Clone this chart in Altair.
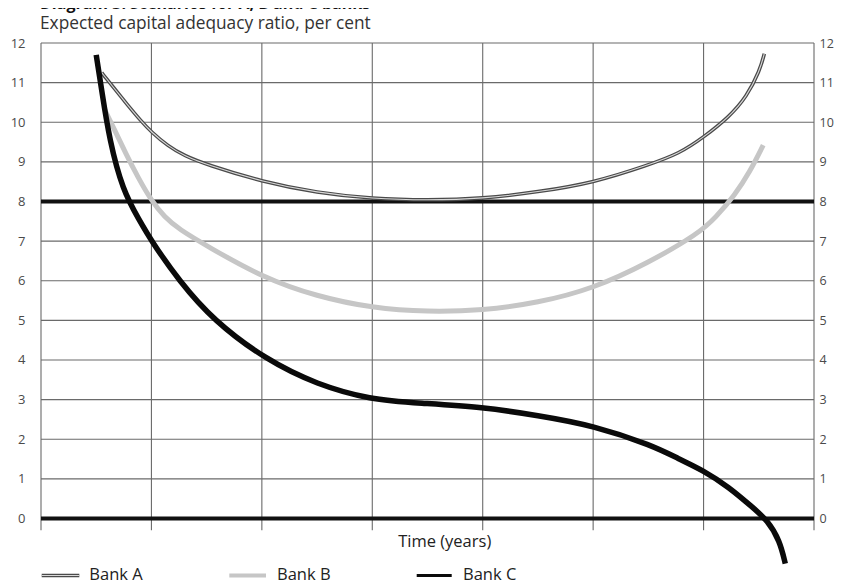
import altair as alt
import pandas as pd

# ---- data ----
bank_a_t = [0.55, 0.65, 0.78, 0.9, 1.0, 1.15, 1.3, 1.5, 2.0, 2.5, 3.0, 3.5, 4.0, 4.5, 5.0, 5.5, 5.78, 6.0, 6.23, 6.39, 6.51, 6.55]
bank_a_v = [11.25, 10.9, 10.45, 10.05, 9.75, 9.4, 9.15, 8.93, 8.5, 8.22, 8.07, 8.03, 8.07, 8.24, 8.47, 8.92, 9.21, 9.62, 10.13, 10.64, 11.31, 11.73]

bank_b_t = [0.58, 0.65, 0.77, 0.88, 1.0, 1.12, 1.25, 1.5, 2.0, 2.5, 3.0, 3.5, 4.0, 4.5, 5.0, 5.5, 5.96, 6.11, 6.28, 6.42, 6.54]
bank_b_v = [10.3, 9.9, 9.2, 8.6, 8.02, 7.6, 7.3, 6.88, 6.09, 5.6, 5.31, 5.21, 5.25, 5.44, 5.8, 6.45, 7.2, 7.6, 8.15, 8.75, 9.42]

bank_c_t = [0.50, 0.55, 0.62, 0.74, 0.89, 1.0, 1.25, 1.56, 2.04, 2.5, 2.98, 3.43, 4.0, 4.5, 5.0, 5.54, 5.77, 6.0, 6.23, 6.44, 6.58, 6.69, 6.74]
bank_c_v = [11.7, 10.8, 9.55, 8.28, 7.53, 7.0, 6.0, 5.0, 4.0, 3.38, 3.0, 2.91, 2.81, 2.6, 2.35, 1.84, 1.51, 1.21, 0.79, 0.29, -0.05, -0.56, -1.14]

y_ticks = list(range(0, 13))
thin_grid_y = [1, 2, 3, 4, 5, 6, 7, 9, 10, 11, 12]
thick_lines_y = [0, 8]
grid_x = [0, 1, 2, 3, 4, 5, 6, 7]

title_text = "Diagram 3: Scenarios for A, B and C banks"
subtitle_text = "Expected capital adequacy ratio, per cent"
x_title = "Time (years)"
legend_names = ["Bank A", "Bank B", "Bank C"]

# ---- layout ----
W, H = 773, 523
FONT = "Open Sans"
xs = alt.Scale(domain=[0, 7], nice=False, zero=False)
ys = alt.Scale(domain=[-1.2, 12], nice=False, zero=False)

df_a = pd.DataFrame({"t": bank_a_t, "v": bank_a_v})
df_b = pd.DataFrame({"t": bank_b_t, "v": bank_b_v})
df_c = pd.DataFrame({"t": bank_c_t, "v": bank_c_v})

axis_common = dict(values=y_ticks, tickSize=0, domain=False, grid=False, labelFont=FONT,
                   labelColor="#4a4a4a", title=None)

hgrid = alt.Chart(pd.DataFrame({"v": thin_grid_y})).mark_rule(color="#6a6a6a", strokeWidth=1.1).encode(
    y=alt.Y("v:Q", scale=ys, axis=alt.Axis(orient="left", labelPadding=16, labelAlign="right",
                                           labelFontSize=13, **axis_common))
)

vgrid = alt.Chart(pd.DataFrame({"t": grid_x, "top": [12] * len(grid_x), "bot": [-0.3] * len(grid_x)})).mark_rule(
    color="#6a6a6a", strokeWidth=1.1
).encode(
    x=alt.X("t:Q", scale=xs, axis=None),
    y=alt.Y("top:Q", scale=ys, axis=None),
    y2="bot:Q",
)

thick = alt.Chart(pd.DataFrame({"v": thick_lines_y})).mark_rule(color="#111111", strokeWidth=4).encode(
    y=alt.Y("v:Q", scale=ys, axis=alt.Axis(orient="right", labelPadding=5, labelAlign="left",
                                           labelFontSize=12.5, **axis_common))
)

def line(df, color, width):
    return alt.Chart(df).mark_line(color=color, strokeWidth=width, interpolate="basis").encode(
        x=alt.X("t:Q", scale=xs, axis=None),
        y=alt.Y("v:Q", scale=ys, axis=None),
        order="t:Q",
    )

line_a_outer = line(df_a, "#4a4a4a", 3.6)
line_a_inner = line(df_a, "#d8d8d8", 1.1)
line_b = line(df_b, "#c6c6c6", 5)
line_c = line(df_c, "#0a0a0a", 5.5)

def text_at(s, x, y, size, weight="normal", align="left", color="#222222"):
    return alt.Chart(pd.DataFrame({"s": [s]})).mark_text(
        font=FONT, fontSize=size, fontWeight=weight, align=align, baseline="alphabetic", color=color
    ).encode(x=alt.value(x), y=alt.value(y), text="s:N")

title = text_at(title_text, -1, -34.2, 16, weight="bold", color="#111111")
subtitle = text_at(subtitle_text, -1, -13.7, 17.3, color="#333333")
xlab = text_at(x_title, 403.7, 504.3, 16.5, align="center", color="#222222")

# legend (custom, matches double-line style of Bank A)
leg_y = 532.5
leg_swatch_x = [(0.7, 38.3), (188.3, 225.0), (375.7, 410.7)]
leg_text_x = [48.3, 236.0, 422.0]
leg_styles = [("#4a4a4a", 3.6), ("#c6c6c6", 4), ("#0a0a0a", 3)]

legend_layers = []
for (x1, x2), tx, (col, w), name in zip(leg_swatch_x, leg_text_x, leg_styles, legend_names):
    legend_layers.append(
        alt.Chart(pd.DataFrame({"s": [name]})).mark_rule(color=col, strokeWidth=w).encode(
            x=alt.value(x1), x2=alt.value(x2), y=alt.value(leg_y)
        )
    )
    if name == "Bank A":
        legend_layers.append(
            alt.Chart(pd.DataFrame({"s": [name]})).mark_rule(color="#d8d8d8", strokeWidth=1.1).encode(
                x=alt.value(x1), x2=alt.value(x2), y=alt.value(leg_y)
            )
        )
    legend_layers.append(text_at(name, tx, leg_y + 4.5, 16.5, color="#222222"))

chart = alt.layer(
    hgrid, vgrid, thick, line_b, line_a_outer, line_a_inner, line_c,
    title, subtitle, xlab, *legend_layers
).resolve_axis(y="independent").properties(
    width=W, height=H,
    padding={"left": 33, "top": 35, "right": 20, "bottom": 30},
    autosize=alt.AutoSizeParams(type="none"),
    background="white",
).configure_view(stroke=None)

chart.save("out.html", embed_options={"renderer": "svg", "actions": False})
